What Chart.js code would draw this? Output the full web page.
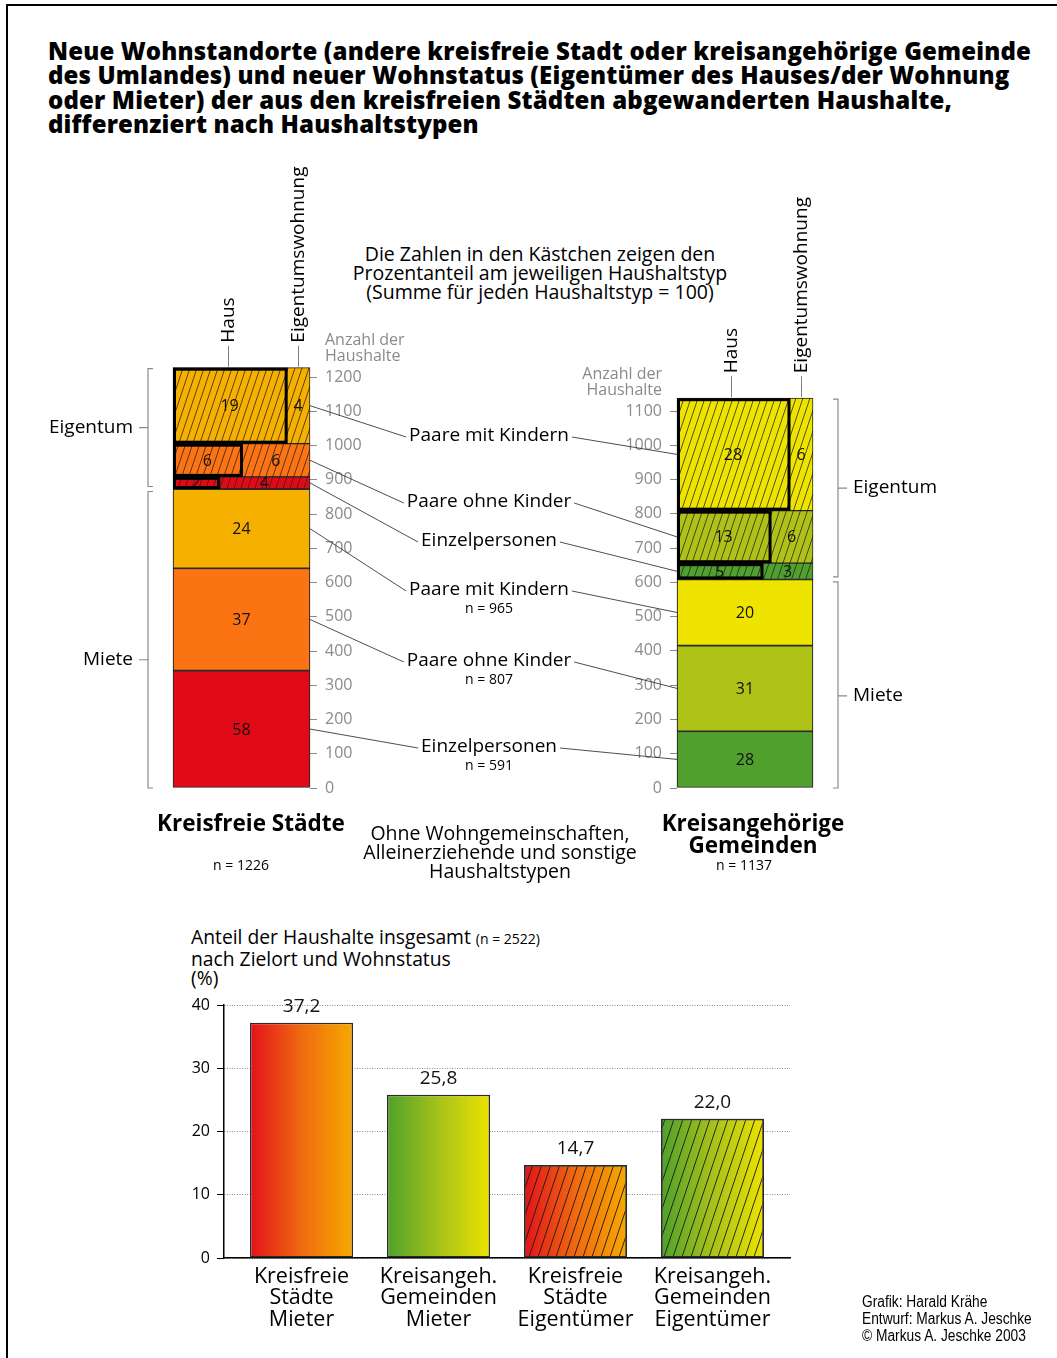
<!DOCTYPE html>
<html lang="de">
<head>
<meta charset="utf-8">
<title>Neue Wohnstandorte und Wohnstatus abgewanderter Haushalte</title>
<script src="https://cdn.jsdelivr.net/npm/chart.js@4.4.1/dist/chart.umd.min.js"></script>
<style>
  html, body { margin: 0; padding: 0; background: #fff; }
  #page { position: relative; width: 1057px; height: 1358px; overflow: hidden; background: #fff;
          font-family: 'Open Sans', sans-serif; color: #000; }
  .frame { position: absolute; left: 6px; top: 4px; right: -10px; bottom: -10px;
           border-top: 2px solid #000; border-left: 2px solid #000; }
  canvas { position: absolute; left: 0; }
  .txt { position: absolute; white-space: nowrap; }
  .title { left: 48px; top: 39px; font-weight: 800; font-size: 24px; line-height: 24.3px; letter-spacing: 0.15px; }
  .note { left: 290px; width: 500px; top: 244px; font-size: 19.5px; line-height: 19px; text-align: center; }
  .dest { font-weight: 700; font-size: 22.5px; line-height: 22px; text-align: center; width: 260px; top: 812px; }
  .small { font-size: 14px; line-height: 16px; text-align: center; width: 120px; top: 857px; }
  .mid { left: 300px; width: 400px; top: 823px; font-size: 19.5px; line-height: 19px; text-align: center; }
  .share-title { left: 191px; top: 927px; font-size: 19.3px; line-height: 19.5px; }
  .share-title span { font-size: 14px; }
  .credits { left: 862px; top: 1293px; font-family: 'Liberation Sans', Arial, sans-serif; font-size: 16px;
             line-height: 17px; transform: scaleX(0.86); transform-origin: 0 0; }
</style>
</head>
<body>
<div id="page">
  <div class="frame"></div>

  <div class="txt title">Neue Wohnstandorte (andere kreisfreie Stadt oder kreisangehörige Gemeinde<br>des Umlandes) und neuer Wohnstatus (Eigentümer des Hauses/der Wohnung<br>oder Mieter) der aus den kreisfreien Städten abgewanderten Haushalte,<br>differenziert nach Haushaltstypen</div>

  <div class="txt note">Die Zahlen in den Kästchen zeigen den<br>Prozentanteil am jeweiligen Haushaltstyp<br>(Summe für jeden Haushaltstyp = 100)</div>

  <canvas id="kreisangChart" width="1057" height="760" style="top:140px"></canvas>
  <canvas id="kreisfreiChart" width="1057" height="760" style="top:140px"></canvas>

  <div class="txt dest" id="destLeft" style="left:121px"></div>
  <div class="txt small" id="nLeft" style="left:181px"></div>
  <div class="txt dest" id="destRight" style="left:623px"></div>
  <div class="txt small" id="nRight" style="left:684px"></div>
  <div class="txt mid">Ohne Wohngemeinschaften,<br>Alleinerziehende und sonstige<br>Haushaltstypen</div>

  <div class="txt share-title" id="shareTitle"></div>
  <canvas id="shareChart" width="1057" height="458" style="top:900px"></canvas>

  <div class="txt credits">Grafik: Harald Krähe<br>Entwurf: Markus A. Jeschke<br>© Markus A. Jeschke 2003</div>
</div>

<script>
// ---------------------------------------------------------------
// Data
// ---------------------------------------------------------------
// Household types, listed from the top row of each column downwards
const householdTypes = ['Paare mit Kindern', 'Paare ohne Kinder', 'Einzelpersonen'];
const householdN = [965, 807, 591];

// Percent of each household type (both destinations together = 100)
const kreisfreiHaus = [19, 6, 2];
const kreisfreiWohnung = [4, 6, 4];
const kreisfreiMiete = [24, 37, 58];

const kreisangHaus = [28, 13, 5];
const kreisangWohnung = [6, 6, 3];
const kreisangMiete = [20, 31, 28];

const destinationNames = ['Kreisfreie Städte', 'Kreisangehörige Gemeinden'];
const destinationLines = [['Kreisfreie Städte'], ['Kreisangehörige', 'Gemeinden']];
const destinationN = [1226, 1137];

// Household-count axes
const kreisfreiAxisMax = 1200;
const kreisangAxisMax = 1100;
const countStep = 100;

// Share of all households by destination and tenure (%)
const shareTotalN = 2522;
const shareLabels = [
  ['Kreisfreie', 'Städte', 'Mieter'],
  ['Kreisangeh.', 'Gemeinden', 'Mieter'],
  ['Kreisfreie', 'Städte', 'Eigentümer'],
  ['Kreisangeh.', 'Gemeinden', 'Eigentümer']
];
const shareValues = [37.2, 25.8, 14.7, 22.0];
const shareDestination = [0, 1, 0, 1];
const shareOwner = [false, false, true, true];
const shareAxisMax = 40;
const shareStep = 10;

// ---------------------------------------------------------------
// Styling
// ---------------------------------------------------------------
const FONT = "'Open Sans', sans-serif";
Chart.defaults.font.family = FONT;
Chart.defaults.color = '#000';

const kreisfreiColors = ['#F6B000', '#FC7313', '#E30A17'];
const kreisangColors = ['#EFE300', '#AEC217', '#50A02D'];
const shareGradients = [
  ['#E3121A', '#EF6A10', '#F7A900'],
  ['#4FA12B', '#A6C21A', '#EDE200']
];
const axisGrey = '#8a8a8a';

// column labels between the two mosaics (page coordinates)
const labelColumnX = 489;
const ownerLabelY = [436, 502, 541];
const renterLabelY = [590, 661, 747];

// stacking order of household types, bottom to top
const stackOrder = [2, 1, 0];

function hatchPattern(ctx, bg, w, h, lw, color) {
  const c = document.createElement('canvas');
  c.width = w; c.height = h;
  const g = c.getContext('2d');
  if (bg) { g.fillStyle = bg; g.fillRect(0, 0, w, h); }
  g.strokeStyle = color;
  g.lineWidth = lw;
  g.beginPath();
  for (let k = -1; k <= 1; k++) { g.moveTo(k * w, h); g.lineTo((k + 1) * w, 0); }
  g.stroke();
  return ctx.createPattern(c, 'repeat');
}

// ---------------------------------------------------------------
// Mosaic columns (household counts, split by tenure)
// ---------------------------------------------------------------
function mosaicDecor(spec) {
  return {
    id: 'mosaicDecor',
    afterDatasetsDraw(chart) {
      const c = chart.ctx;
      const area = chart.chartArea;
      const ys = chart.scales.y;
      const offY = chart.canvas.offsetTop;
      const rows = { miete: {}, eig: {} };

      chart.data.datasets.forEach((ds, i) => {
        const el = chart.getDatasetMeta(i).data[0];
        const p = el.getProps(['x', 'y', 'base', 'width'], true);
        const r = { l: p.x - p.width / 2, r: p.x + p.width / 2,
                    t: Math.min(p.y, p.base), b: Math.max(p.y, p.base) };
        if (i < stackOrder.length) rows.miete[stackOrder[i]] = r;
        else rows.eig[stackOrder[i - stackOrder.length]] = r;
      });

      c.save();
      c.textAlign = 'center';
      c.textBaseline = 'middle';

      // owner rows: thick box around "Haus", numbers in both parts
      householdTypes.forEach((_, t) => {
        const r = rows.eig[t];
        const h = spec.haus[t], w = spec.wohnung[t];
        const split = r.l + (r.r - r.l) * h / (h + w);
        r.split = split;
        c.save();
        c.beginPath(); c.rect(r.l, r.t, r.r - r.l, r.b - r.t); c.clip();
        c.fillStyle = '#111';
        c.font = '16px ' + FONT;
        c.fillText(String(h), (r.l + split) / 2, (r.t + r.b) / 2 + 1);
        c.fillText(String(w), (split + r.r) / 2, (r.t + r.b) / 2 + 1);
        c.restore();
        c.lineWidth = 3;
        c.strokeStyle = '#000';
        c.strokeRect(r.l + 1.5, r.t + 1.5, split - r.l - 1.5, r.b - r.t - 3);
      });

      // renter segments
      c.fillStyle = '#111';
      c.font = '16px ' + FONT;
      householdTypes.forEach((_, t) => {
        const r = rows.miete[t];
        c.fillText(String(spec.miete[t]), (r.l + r.r) / 2, (r.t + r.b) / 2 + 1);
      });

      // column headers above the top owner row
      const top = rows.eig[0];
      c.strokeStyle = '#808080';
      c.lineWidth = 1;
      [['Haus', (top.l + top.split) / 2 - 2], ['Eigentumswohnung', (top.split + top.r) / 2]].forEach(([txt, x]) => {
        const xx = Math.round(x) + 0.5;
        c.beginPath(); c.moveTo(xx, top.t - 1); c.lineTo(xx, top.t - 22); c.stroke();
        c.save();
        c.translate(x, top.t - 25);
        c.rotate(-Math.PI / 2);
        c.textAlign = 'left';
        c.font = '19px ' + FONT;
        c.fillStyle = '#000';
        c.fillText(txt, 0, 1);
        c.restore();
      });

      // tenure brackets
      const mieteTop = Math.min(...householdTypes.map((_, t) => rows.miete[t].t));
      const eigTop = Math.min(...householdTypes.map((_, t) => rows.eig[t].t));
      const zero = ys.getPixelForValue(0);
      const dir = spec.side === 'left' ? 1 : -1;          // towards the bar
      const bx = spec.side === 'left' ? area.left - 25 : area.right + 25;
      c.strokeStyle = axisGrey;
      c.lineWidth = 1.2;
      c.font = '19px ' + FONT;
      c.fillStyle = '#000';
      c.textAlign = spec.side === 'left' ? 'right' : 'left';
      [['Eigentum', eigTop + 1, mieteTop - 2.5, 0], ['Miete', mieteTop + 2.5, zero, spec.renterLabelShift]]
        .forEach(([txt, y0, y1, shift]) => {
          const mid = (y0 + y1) / 2 + shift;
          c.beginPath();
          c.moveTo(bx + dir * 5, y0); c.lineTo(bx, y0); c.lineTo(bx, y1); c.lineTo(bx + dir * 5, y1);
          c.moveTo(bx, mid); c.lineTo(bx - dir * 9, mid);
          c.stroke();
          c.fillText(txt, bx - dir * 15, mid);
        });

      // axis title
      c.fillStyle = axisGrey;
      c.font = '16px ' + FONT;
      const ax = spec.side === 'left' ? area.right + 15 : area.left - 15;
      c.textAlign = spec.side === 'left' ? 'left' : 'right';
      const yTop = ys.getPixelForValue(ys.max);
      c.fillText('Anzahl der', ax, yTop - 37);
      c.fillText('Haushalte', ax, yTop - 21);

      // labels of the middle column
      c.font = '19px ' + FONT;
      const labelWidth = t => c.measureText(householdTypes[t]).width;
      if (spec.drawLabels) {
        c.fillStyle = '#000';
        c.textAlign = 'center';
        householdTypes.forEach((name, t) => {
          c.font = '19px ' + FONT;
          c.fillText(name, labelColumnX, ownerLabelY[t] - offY);
          c.fillText(name, labelColumnX, renterLabelY[t] - offY);
          c.font = '14px ' + FONT;
          c.fillText('n = ' + householdN[t], labelColumnX, renterLabelY[t] - offY + 19);
        });
      }

      // connectors from each segment to its label
      c.font = '19px ' + FONT;
      c.strokeStyle = '#3a3a3a';
      c.lineWidth = 0.9;
      householdTypes.forEach((_, t) => {
        const w = labelWidth(t);
        const lx = spec.side === 'left' ? labelColumnX - w / 2 - 3 : labelColumnX + w / 2 + 3;
        [[rows.eig[t], ownerLabelY[t]], [rows.miete[t], renterLabelY[t]]].forEach(([r, ly]) => {
          const ex = spec.side === 'left' ? r.r : r.l;
          c.beginPath();
          c.moveTo(ex, (r.t + r.b) / 2);
          c.lineTo(lx, ly - offY + 1);
          c.stroke();
        });
      });
      c.restore();
    }
  };
}

function mosaicChart(canvasId, spec) {
  const canvas = document.getElementById(canvasId);
  const ctx = canvas.getContext('2d');
  const datasets = [];
  stackOrder.forEach(t => datasets.push({
    label: householdTypes[t] + ' (Miete)',
    data: [spec.miete[t] * householdN[t] / 100],
    backgroundColor: spec.colors[t],
    borderColor: '#2a2a2a',
    borderWidth: 1.2,
    clip: false
  }));
  stackOrder.forEach(t => datasets.push({
    label: householdTypes[t] + ' (Eigentum)',
    data: [(spec.haus[t] + spec.wohnung[t]) * householdN[t] / 100],
    backgroundColor: hatchPattern(ctx, spec.colors[t], 7, 21, 0.75, '#222'),
    borderColor: '#222',
    borderWidth: 1,
    clip: false
  }));
  return new Chart(ctx, {
    type: 'bar',
    data: { labels: [spec.name], datasets },
    options: {
      responsive: false,
      animation: false,
      devicePixelRatio: 1,
      layout: { padding: spec.padding },
      plugins: { legend: { display: false }, tooltip: { enabled: false } },
      datasets: { bar: { barPercentage: 1, categoryPercentage: 1, borderSkipped: false, clip: false } },
      scales: {
        x: { display: false, stacked: true },
        y: {
          stacked: true,
          min: 0,
          max: spec.max,
          position: spec.side === 'left' ? 'right' : 'left',
          afterFit: s => { s.width = 60; },
          ticks: { stepSize: countStep, color: axisGrey, font: { size: 16 }, padding: 8,
                   callback: v => String(v) },
          grid: { drawOnChartArea: false, drawTicks: true, tickLength: 7, color: axisGrey, tickColor: axisGrey },
          border: { display: false }
        }
      }
    },
    plugins: [mosaicDecor(spec)]
  });
}

mosaicChart('kreisangChart', {
  name: destinationNames[1], side: 'right',
  haus: kreisangHaus, wohnung: kreisangWohnung, miete: kreisangMiete,
  colors: kreisangColors, max: kreisangAxisMax, drawLabels: false, renterLabelShift: 11,
  padding: { left: 617, right: 244, top: 271, bottom: 112 }
});
mosaicChart('kreisfreiChart', {
  name: destinationNames[0], side: 'left',
  haus: kreisfreiHaus, wohnung: kreisfreiWohnung, miete: kreisfreiMiete,
  colors: kreisfreiColors, max: kreisfreiAxisMax, drawLabels: true, renterLabelShift: 20,
  padding: { left: 173, right: 687, top: 237, bottom: 112 }
});

document.getElementById('destLeft').innerHTML = destinationLines[0].join('<br>');
document.getElementById('destRight').innerHTML = destinationLines[1].join('<br>');
document.getElementById('nLeft').textContent = 'n = ' + destinationN[0];
document.getElementById('nRight').textContent = 'n = ' + destinationN[1];
document.getElementById('shareTitle').innerHTML =
  'Anteil der Haushalte insgesamt <span>(n = ' + shareTotalN + ')</span><br>nach Zielort und Wohnstatus<br>(%)';

// ---------------------------------------------------------------
// Overall shares
// ---------------------------------------------------------------
const shareBarFraction = 0.752;
const shareEdgePad = 0.566;

function shareGradient(context) {
  const chart = context.chart;
  const xs = chart.scales.x;
  const i = context.raw && context.raw.x !== undefined ? context.raw.x : context.dataIndex;
  const stops = shareGradients[shareDestination[i] || 0];
  if (!xs || !chart.chartArea) return stops[1];
  const half = (xs.getPixelForValue(1) - xs.getPixelForValue(0)) * shareBarFraction / 2;
  const cx = xs.getPixelForValue(i);
  const g = chart.ctx.createLinearGradient(cx - half, 0, cx + half, 0);
  stops.forEach((col, k) => g.addColorStop(k / (stops.length - 1), col));
  return g;
}

const shareCtx = document.getElementById('shareChart').getContext('2d');

const shareValueLabels = {
  id: 'shareValueLabels',
  afterDatasetsDraw(chart) {
    const c = chart.ctx;
    c.save();
    c.font = '19px ' + FONT;
    c.fillStyle = '#111';
    c.textAlign = 'center';
    c.textBaseline = 'middle';
    chart.getDatasetMeta(0).data.forEach((el, i) => {
      c.fillText(shareValues[i].toFixed(1).replace('.', ','), el.x, el.y - 16);
    });
    c.restore();
  }
};

new Chart(shareCtx, {
  type: 'bar',
  data: {
    datasets: [
      {
        label: 'Anteil',
        data: shareValues.map((v, i) => ({ x: i, y: v })),
        backgroundColor: shareGradient,
        borderColor: '#2a2a2a',
        borderWidth: 1.5,
        order: 1
      },
      {
        label: 'Eigentümer',
        data: shareValues.map((v, i) => ({ x: i, y: v })).filter((_, i) => shareOwner[i]),
        backgroundColor: hatchPattern(shareCtx, null, 9, 27, 0.9, '#1a1a1a'),
        borderColor: '#2a2a2a',
        borderWidth: 1.5,
        order: 0
      }
    ]
  },
  options: {
    responsive: false,
    animation: false,
    devicePixelRatio: 1,
    layout: { padding: { left: 184, right: 267, top: 105, bottom: 0 } },
    plugins: { legend: { display: false }, tooltip: { enabled: false } },
    datasets: { bar: { grouped: false, barPercentage: shareBarFraction, categoryPercentage: 1, borderSkipped: false } },
    scales: {
      x: {
        type: 'linear',
        offset: false,
        min: -shareEdgePad,
        max: shareValues.length - 1 + shareEdgePad,
        afterBuildTicks: axis => { axis.ticks = shareValues.map((_, i) => ({ value: i })); },
        afterFit: s => { s.height = 100; },
        ticks: {
          callback: v => shareLabels[v],
          autoSkip: false, maxRotation: 0, minRotation: 0,
          color: '#000', font: { size: 21.5, lineHeight: 1.0 }, padding: 8
        },
        grid: { display: false, drawTicks: false },
        border: { display: true, color: '#000', width: 1.5 }
      },
      y: {
        min: 0,
        max: shareAxisMax,
        afterFit: s => { s.width = 40; },
        ticks: { stepSize: shareStep, color: '#000', font: { size: 16 }, padding: 7 },
        grid: { color: '#8a8a8a', lineWidth: 1, drawTicks: true, tickLength: 7, tickColor: '#000' },
        border: { display: true, color: '#000', width: 1.5, dash: [1, 1.5] }
      }
    }
  },
  plugins: [shareValueLabels]
});
</script>
</body>
</html>
